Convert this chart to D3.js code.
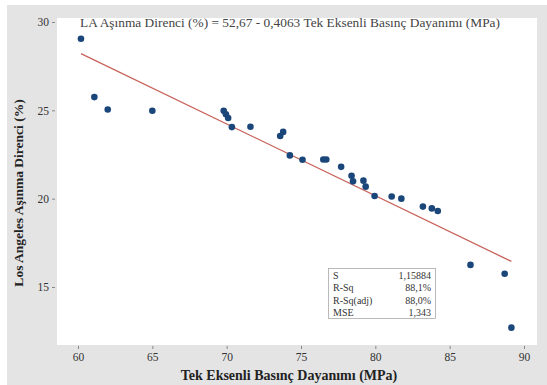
<!DOCTYPE html>
<html>
<head>
<meta charset="utf-8">
<script src="https://cdn.jsdelivr.net/npm/d3@7"></script>
<style>
  html, body { margin: 0; padding: 0; background: #ffffff; }
  svg { display: block; }
</style>
</head>
<body>
<svg id="chart" width="547" height="385"></svg>
<script>
// Tek eksenli basınç dayanımı (MPa)
const ucs = [60.2, 61.1, 62.0, 65.0, 69.8, 69.95, 70.1, 70.35, 71.6, 73.8, 73.6,
             74.25, 75.1, 76.5, 76.7, 77.7, 78.4, 78.5, 79.2, 79.35, 79.95, 81.1,
             81.75, 83.2, 83.8, 84.2, 86.4, 88.7, 89.15];
// Los Angeles aşınma direnci (%)
const laValues = [29.05, 25.75, 25.05, 24.98, 24.98, 24.78, 24.57, 24.05, 24.07, 23.78, 23.55,
                  22.45, 22.2, 22.22, 22.22, 21.8, 21.3, 20.98, 21.02, 20.68, 20.15, 20.12,
                  20.0, 19.55, 19.45, 19.3, 16.25, 15.75, 12.7];
// Regresyon katsayıları ve istatistikler
const intercept = 52.67;
const slope = -0.4063;
const statLabels = ["S", "R-Sq", "R-Sq(adj)", "MSE"];
const statValues = ["1,15884", "88,1%", "88,0%", "1,343"];
const xTicks = [60, 65, 70, 75, 80, 85, 90];
const yTicks = [15, 20, 25, 30];

const SERIF = "'Liberation Serif', 'Times New Roman', serif";
const svg = d3.select("#chart");

// Outer grey frame and white data panel
svg.append("rect").attr("x", 7).attr("y", 5).attr("width", 540).attr("height", 380).attr("fill", "#e4e4e4");
svg.append("rect").attr("x", 57).attr("y", 18).attr("width", 480).attr("height", 327).attr("fill", "#ffffff");

const x = d3.scaleLinear().domain([60, 90]).range([78, 524]);
const y = d3.scaleLinear().domain([15, 30]).range([287, 22]);

// Axes
const xAxis = svg.append("g").attr("transform", "translate(0,346)")
  .call(d3.axisBottom(x).tickValues(xTicks).tickSize(3).tickPadding(4).tickFormat(d3.format("d")));
const yAxis = svg.append("g").attr("transform", "translate(55,0)")
  .call(d3.axisLeft(y).tickValues(yTicks).tickSize(3).tickPadding(3).tickFormat(d3.format("d")));
[xAxis, yAxis].forEach(a => {
  a.select(".domain").remove();
  a.selectAll(".tick line").attr("stroke", "#888");
  a.selectAll(".tick text").attr("fill", "#333")
    .style("font-family", SERIF).style("font-size", "11.5px");
});

// Fitted regression line across the observed range
const [xMin, xMax] = d3.extent(ucs);
svg.append("line")
  .attr("x1", x(xMin)).attr("y1", y(intercept + slope * xMin))
  .attr("x2", x(xMax)).attr("y2", y(intercept + slope * xMax))
  .attr("stroke", "#c8625a").attr("stroke-width", 1.3);

// Observations
svg.append("g").selectAll("circle")
  .data(ucs.map((v, i) => [v, laValues[i]]))
  .join("circle")
  .attr("cx", d => x(d[0])).attr("cy", d => y(d[1]))
  .attr("r", 3.3).attr("fill", "#1b4679");

// Regression equation
svg.append("text").attr("x", 80).attr("y", 27)
  .style("font-family", SERIF).style("font-size", "12.5px").attr("fill", "#444")
  .attr("textLength", 420).attr("lengthAdjust", "spacingAndGlyphs")
  .text("LA Aşınma Direnci (%) = 52,67 - 0,4063 Tek Eksenli Basınç Dayanımı (MPa)");

// Statistics box
const box = svg.append("g");
box.append("rect").attr("x", 328.5).attr("y", 268.5).attr("width", 107).attr("height", 50)
  .attr("fill", "#ffffff").attr("stroke", "#aaa").attr("stroke-width", 0.8);
statLabels.forEach((lab, i) => {
  const ty = 279 + i * 12.3;
  box.append("text").attr("x", 333).attr("y", ty).style("font-family", SERIF)
    .style("font-size", "10px").attr("fill", "#333").text(lab);
  box.append("text").attr("x", 431).attr("y", ty).style("font-family", SERIF)
    .style("font-size", "10px").attr("fill", "#333")
    .attr("text-anchor", "end").text(statValues[i]);
});

// Axis titles
svg.append("text").attr("x", 289).attr("y", 380).attr("text-anchor", "middle")
  .style("font-family", SERIF).style("font-size", "14px").attr("font-weight", "bold").attr("fill", "#222")
  .text("Tek Eksenli Basınç Dayanımı (MPa)");
svg.append("text").attr("transform", "translate(23,193) rotate(-90)").attr("text-anchor", "middle")
  .style("font-family", SERIF).style("font-size", "13.5px").attr("font-weight", "bold").attr("fill", "#222")
  .text("Los Angeles Aşınma Direnci (%)");
</script>
</body>
</html>
